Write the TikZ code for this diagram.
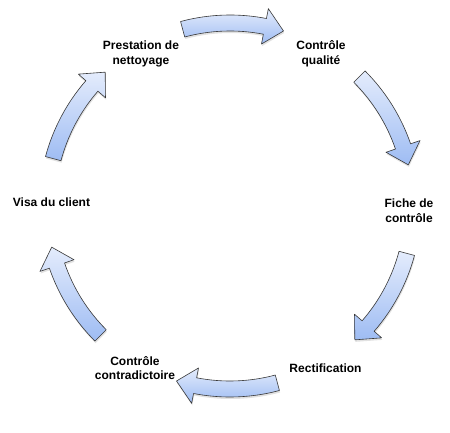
\documentclass[tikz,border=0pt]{standalone}
\usepackage{fontspec}
\setmainfont{Liberation Sans}
\definecolor{arTop}{RGB}{228,236,252}
\definecolor{arBot}{RGB}{158,188,243}
\definecolor{arLine}{RGB}{55,55,55}
\definecolor{shadowcol}{RGB}{90,90,90}
\tikzset{
  lbl/.style={font=\bfseries\fontsize{12}{14.5}\selectfont, align=center, text=black, inner sep=0pt},
  arrowbody/.style={draw=arLine, line width=0.6pt, line join=round, top color=arTop, bottom color=arBot},
  arrowshadow/.style={fill=shadowcol, opacity=0.18},
}
\newcommand{\CycArrow}[1]{%
  \pgfmathsetmacro{\aT}{#1+15}%
  \pgfmathsetmacro{\aB}{#1-11}%
  \pgfmathsetmacro{\aP}{#1-17}%
  \fill[arrowshadow, shift={(0.6pt,-2pt)}]
    (\aT:191pt) arc[start angle=\aT, end angle=\aB, radius=191pt]
    -- (\aB:201pt) -- (\aP:183pt) -- (\aB:165pt) -- (\aB:175pt)
    arc[start angle=\aB, end angle=\aT, radius=175pt] -- cycle;
  \path[arrowbody]
    (\aT:191pt) arc[start angle=\aT, end angle=\aB, radius=191pt]
    -- (\aB:201pt) -- (\aP:183pt) -- (\aB:165pt) -- (\aB:175pt)
    arc[start angle=\aB, end angle=\aT, radius=175pt] -- cycle;
}
\begin{document}
\begin{tikzpicture}
\useasboundingbox[fill=white] (0,0) rectangle (450pt,432pt);
\begin{scope}[shift={(230pt,226pt)}]
  \CycArrow{90}
  \CycArrow{30}
  \CycArrow{-30}
  \CycArrow{-90}
  \CycArrow{-150}
  \CycArrow{150}
\end{scope}
\node[lbl] (prest) at (141pt,378pt) {Prestation de\\nettoyage};
\node[lbl] (cq) at (321pt,378pt) {Contrôle\\qualité};
\node[lbl] (fiche) at (409pt,221.5pt) {Fiche de\\contrôle};
\node[lbl] (rect) at (325.5pt,63.5pt) {Rectification};
\node[lbl] (cc) at (135pt,64pt) {Contrôle\\contradictoire};
\node[lbl] (visa) at (51.5pt,229.5pt) {Visa du client};
\end{tikzpicture}
\end{document}
